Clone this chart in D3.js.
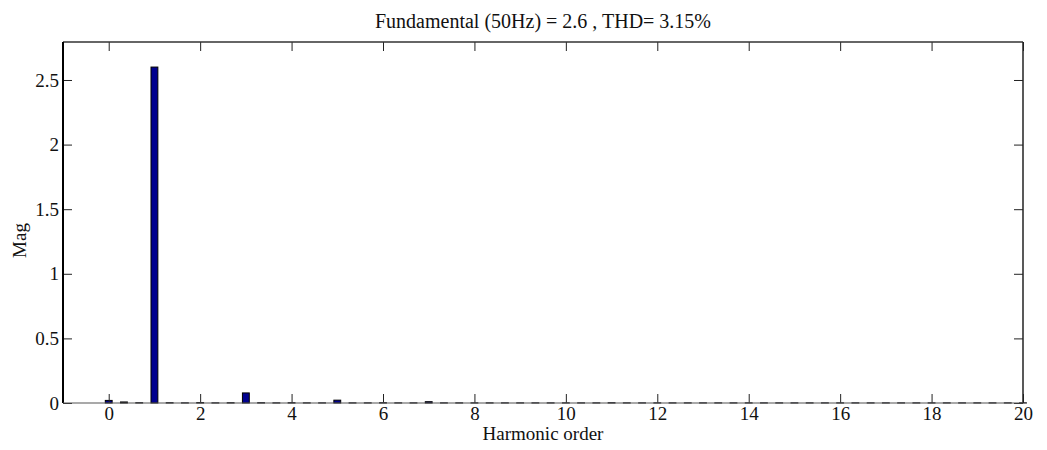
<!DOCTYPE html>
<html>
<head>
<meta charset="utf-8">
<script src="https://cdn.jsdelivr.net/npm/d3@7"></script>
<style>
  html, body { margin: 0; padding: 0; background: #fff; }
  svg text { font-family: "Liberation Serif", "Times New Roman", serif; fill: #111; }
</style>
</head>
<body>
<svg id="chart" width="1047" height="450"></svg>
<script>
// FFT spectrum bins (resolution 1/3 of the fundamental, 0 .. 20th order)
const orders = [
  0, 0.333, 0.667, 1, 1.333, 1.667, 2, 2.333, 2.667, 3,
  3.333, 3.667, 4, 4.333, 4.667, 5, 5.333, 5.667, 6, 6.333,
  6.667, 7, 7.333, 7.667, 8, 8.333, 8.667, 9, 9.333, 9.667,
  10, 10.333, 10.667, 11, 11.333, 11.667, 12, 12.333, 12.667, 13,
  13.333, 13.667, 14, 14.333, 14.667, 15, 15.333, 15.667, 16, 16.333,
  16.667, 17, 17.333, 17.667, 18, 18.333, 18.667, 19, 19.333, 19.667, 20
];
const magnitudes = [
  0.02, 0.008, 0.002, 2.6, 0.002, 0.001, 0.003, 0.001, 0.002, 0.078,
  0.002, 0.001, 0.002, 0.001, 0.001, 0.022, 0.001, 0.001, 0.002, 0.001,
  0.001, 0.01, 0.001, 0.001, 0.001, 0.001, 0.001, 0.001, 0.001, 0.001,
  0.001, 0.001, 0.001, 0.002, 0.001, 0.001, 0.001, 0.001, 0.001, 0.001,
  0.001, 0.001, 0.001, 0.001, 0.001, 0.001, 0.001, 0.001, 0.001, 0.001,
  0.001, 0.001, 0.001, 0.001, 0.001, 0.001, 0.001, 0.001, 0.001, 0.001, 0.001
];
const xTicks = [0, 2, 4, 6, 8, 10, 12, 14, 16, 18, 20];
const yTicks = [0, 0.5, 1, 1.5, 2, 2.5];
const titleText = "Fundamental (50Hz) = 2.6 , THD= 3.15%";
const xLabel = "Harmonic order";
const yLabel = "Mag";

const plotL = 63, plotR = 1023, plotT = 42, plotB = 403;
const svg = d3.select("#chart");

const x = d3.scaleLinear().domain([-1, 20]).range([plotL, plotR]);
const y = d3.scaleLinear().domain([0, 2.794]).range([plotB, plotT]);
const barW = 0.15;

// bars
svg.append("g")
  .selectAll("rect")
  .data(orders.map((o, i) => ({ o, m: magnitudes[i] })))
  .join("rect")
  .attr("x", d => x(d.o - barW / 2))
  .attr("width", d => x(barW) - x(0))
  .attr("y", d => y(d.m))
  .attr("height", d => y(0) - y(d.m))
  .attr("fill", "#00008f")
  .attr("stroke", "#000")
  .attr("stroke-width", 1);

// inward ticks on all four sides
const tickLen = 9;
const fmt = d3.format("~g");
const axB = d3.axisBottom(x).tickValues(xTicks).tickFormat(fmt).tickSizeInner(-tickLen).tickSizeOuter(0).tickPadding(3);
const axT = d3.axisTop(x).tickValues(xTicks).tickSizeInner(-tickLen).tickSizeOuter(0).tickFormat("");
const axL = d3.axisLeft(y).tickValues(yTicks).tickFormat(fmt).tickSizeInner(-tickLen).tickSizeOuter(0).tickPadding(4);
const axR = d3.axisRight(y).tickValues(yTicks).tickSizeInner(-tickLen).tickSizeOuter(0).tickFormat("");

function styleAxis(g) {
  g.select(".domain").remove();
  g.selectAll(".tick line").attr("stroke", "#222").attr("stroke-width", 1);
  g.selectAll(".tick text").attr("font-size", 19).attr("fill", "#111")
    .style("font-family", '"Liberation Serif", "Times New Roman", serif');
}
svg.append("g").attr("transform", `translate(0,${plotB})`).call(axB).call(styleAxis);
svg.append("g").attr("transform", `translate(0,${plotT})`).call(axT).call(styleAxis);
svg.append("g").attr("transform", `translate(${plotL},0)`).call(axL).call(styleAxis);
svg.append("g").attr("transform", `translate(${plotR},0)`).call(axR).call(styleAxis);

// frame
svg.append("line").attr("x1", plotL).attr("x2", plotR).attr("y1", plotT).attr("y2", plotT)
  .attr("stroke", "#333").attr("stroke-width", 1.5);
svg.append("line").attr("x1", plotR).attr("x2", plotR).attr("y1", plotT).attr("y2", plotB)
  .attr("stroke", "#222").attr("stroke-width", 1.5);
svg.append("line").attr("x1", plotL).attr("x2", plotL).attr("y1", plotT).attr("y2", plotB)
  .attr("stroke", "#000").attr("stroke-width", 2);
svg.append("line").attr("x1", plotL).attr("x2", plotR).attr("y1", plotB).attr("y2", plotB)
  .attr("stroke", "#555").attr("stroke-width", 1.2);

// labels
svg.append("text").attr("x", (plotL + plotR) / 2).attr("y", 28)
  .attr("text-anchor", "middle").attr("font-size", 20).text(titleText);
svg.append("text").attr("x", (plotL + plotR) / 2).attr("y", 440)
  .attr("text-anchor", "middle").attr("font-size", 19).text(xLabel);
svg.append("text")
  .attr("transform", `translate(26,${(plotT + plotB) / 2 + 18}) rotate(-90)`)
  .attr("text-anchor", "middle").attr("font-size", 19).text(yLabel);
</script>
</body>
</html>
